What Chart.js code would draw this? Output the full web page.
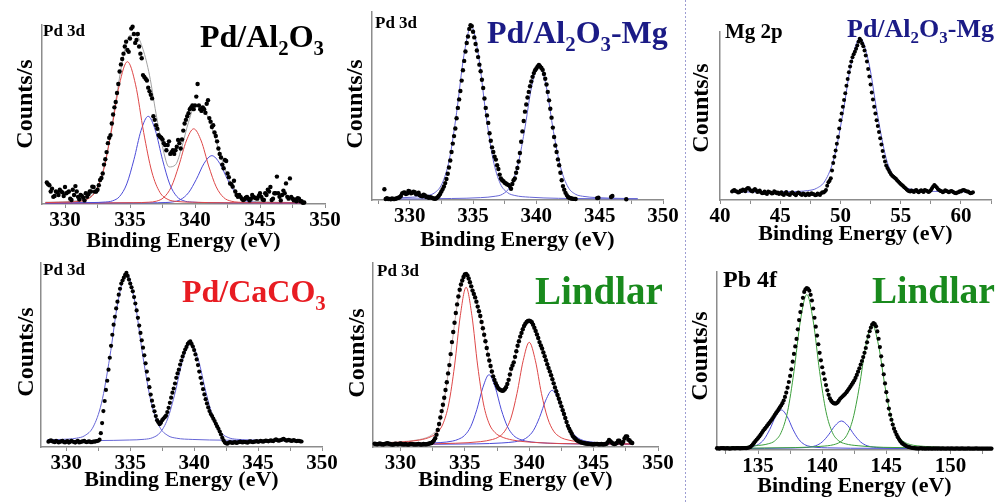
<!DOCTYPE html>
<html>
<head>
<meta charset="utf-8">
<script src="https://cdn.jsdelivr.net/npm/chart.js@4.4.1/dist/chart.umd.min.js"></script>
<style>
  html, body { margin: 0; padding: 0; background: #fff; }
  #fig { position: relative; width: 1000px; height: 502px; overflow: hidden; background: #fff; }
  #fig canvas { position: absolute; }
  .lbl { position: absolute; font-family: 'Liberation Serif', 'Times New Roman', serif; font-weight: bold;
         line-height: 1; white-space: nowrap; z-index: 5; }
  .lbl sub { font-size: 0.65em; vertical-align: baseline; position: relative; top: 0.38em; }
  .ytitle { position: absolute; font-family: 'Liberation Serif', 'Times New Roman', serif; font-weight: bold;
            line-height: 1; white-space: nowrap; transform: translate(-50%, -50%) rotate(-90deg); z-index: 5; }
  .sep { position: absolute; left: 685px; top: 0; width: 1px; height: 502px; z-index: 4;
         background: repeating-linear-gradient(to bottom, #9d9dd2 0 2px, transparent 2px 4px); }
</style>
</head>
<body>
<div id="fig"><div class="sep"></div></div>
<script>
// ---------- Pd 3d, Pd/Al2O3 (measured counts every 0.1 eV from 328.6) ----------
const alDots = [
  12,11,10.5,7,8.5,4,4.5,7,6.5,5,
  8,7,6.5,4.5,9.5,6,6.5,7,3,2.2,
  8,5,10,7,4,2.5,5,4.5,3.5,2,
  6,4,5.5,7,7,9.7,9.5,6.9,7,8,
  10.5,13.4,14.5,17,22,25,29,34,37,38.5,
  45,50,54,57,62,67,74,78,81,84,
  88,90.7,86,85,92.5,98,99,95,90,91.6,
  95,88,84,81.4,72,71,70,69,65,63,
  61,59,49,47,44,42,38.5,37.6,37,36,
  34,33,30,33,35,28,29,30,28,30,
  32,35.8,34,31,36,41,45,47,49,50.7,
  53,54,55,53,55,60,67,55,53,52,
  54,53,51,56,58,48,46,43,44,40,
  38,35,31,28,26,22,20,24.6,24,17,
  15,11.5,11,9.7,13,7,5,4,5,4,
  3,2.2,2.5,3.5,4,3,2,3,5,4,
  3.5,3.2,3,4.5,6,4,2.5,2.2,6,5,
  8,7,9.5,2.2,3,6,6,15.3,6,4,
  2,5,7.5,6,11.5,4,3,14.3,4,3,
  2,2.5,1.5,3.2,3,1.5,1.5,0.7,0.8];
// fit envelope every 0.5 eV from 328.5
const alEnvelope = [1.0,1.0,1.1,1.2,1.45,1.8,2.4,4.4,9.4,20.7,39.1,61.9,82.9,94.2,93.9,86.4,71.9,50.6,32,20.7,
  21.9,32.2,45.7,54.6,54.5,48.4,38,26.4,16,8.6,4.1,2.3,1.55,1.25,1.1,1.0,0.95,0.9,0.85,0.8,0.8];
const alRed1 = [[328.5,0.8],[329.8,1.0],[331.05,1.45],[331.68,2.5],[332.3,6.5],[332.93,17.9],[333.55,40],[334.18,66.6],[334.8,79.5],
  [335.43,66.6],[336.05,40],[336.68,17.9],[337.3,6.5],[337.93,2.5],[338.55,1.45],[339.8,1.0],[342.3,0.7],[348.5,0.6]];
const alBlue1 = [[328.5,0.5],[332.0,0.8],[333.1,1.1],[333.65,1.75],[334.2,4.2],[334.75,11.2],[335.3,24.75],[335.85,41.1],[336.4,49],
  [336.95,41.1],[337.5,24.75],[338.05,11.2],[338.6,4.2],[339.15,1.75],[339.7,1.1],[340.8,0.8],[343.0,0.6],[348.5,0.5]];
const alRed2 = [[328.5,0.5],[335.3,0.75],[336.45,1.0],[337.03,1.57],[337.6,3.65],[338.18,9.6],[338.75,21.25],[339.33,35.2],[339.9,42],
  [340.48,35.2],[341.05,21.25],[341.63,9.6],[342.2,3.65],[342.78,1.57],[343.35,1.0],[344.5,0.75],[348.5,0.55]];
const alBlue2 = [[328.5,0.5],[336.5,0.66],[337.7,0.82],[338.3,1.18],[338.9,2.5],[339.5,6.3],[340.1,13.75],[340.7,22.7],[341.3,27],
  [341.9,22.7],[342.5,13.75],[343.1,6.3],[343.7,2.5],[344.3,1.18],[344.9,0.82],[346.1,0.66],[348.5,0.55]];

// ---------- Pd 3d, Pd/Al2O3-Mg (every 0.1 eV from 328.0; null = no reading) ----------
const mgDots = [
  5.7,0.5,1.0,0.5,0.6,0.4,0.8,0.5,0.5,0.7,
  1.0,1.2,1.5,2.1,3.5,3.9,4.0,3.2,3.5,4.8,
  4.5,3.6,3.8,4.4,4.2,3.0,3.2,3.9,2.5,2.1,
  2.0,2.8,2.4,1.6,1.8,1.2,1.5,1.3,1.0,0.8,
  0.6,0.9,1.5,2.3,3.2,4.5,5.8,7.2,9,11.2,
  14,17.3,21,25.5,30,34,38,43.5,49,53.5,
  58,63.5,69,74,79,83.5,87,91,93,92.5,
  89.5,86.5,83,79.5,76,72,68.5,64,59.6,54,
  49,45,41,35.5,31.5,28,25.5,23,21.5,18.5,
  16.5,13.5,11.5,10.5,10,9.2,8.8,8.3,8.0,7.4,
  6.0,8.5,10.5,11.5,14.5,17,20.5,25,31,36.5,
  42,47,50.8,54.5,57.5,60.5,63,65.5,67.5,69,
  70,71,71.8,71,70.2,69.2,67,64.5,61.4,57.5,
  53,48.5,43.8,38.5,33.5,29,25.5,21.6,18.5,14.5,
  10.5,7.4,5.5,3.8,2.6,1.6,1.2,0.9,0.8,0.6,
  0.6,0.5,null,null,null,null,null,null,null,null,
  null,null,null,null,null,null,null,null,1.0,1.2,
  null,null,null,null,null,null,null,null,null,1.6,
  2.1,null,null,null,null,null,null,null,null,null,
  null,0.4,null,null,null,null,null,null,null];
const mgFit1 = [[328.0,0.9],[330.25,1.5],[331.4,2.4],[331.98,3.9],[332.55,8.7],[333.13,21.6],[333.7,46.4],[334.28,77],[334.85,92.4],
  [335.43,77],[336.0,46.4],[336.58,21.6],[337.15,8.7],[337.73,3.9],[338.3,2.4],[339.45,1.5],[341.75,0.9],[348.0,0.6]];
const mgFit2 = [[328.0,0.5],[333.3,0.8],[335.6,1.26],[336.75,2.0],[337.33,3.1],[337.9,6.9],[338.48,17],[339.05,36.4],[339.63,60.4],[340.2,72.4],
  [340.78,60.4],[341.35,36.4],[341.93,17],[342.5,6.9],[343.08,3.1],[343.65,2.0],[344.8,1.26],[347.1,0.8],[348.0,0.7]];

// ---------- Mg 2p, Pd/Al2O3-Mg (every 0.1 eV from 41.0) ----------
const mg2pDots = [
  5,5.6,6,5.2,5,4.4,4.6,5.6,5.4,6.2,
  6,5.2,6.5,7.2,7,6,5.4,5,6,6.6,
  5.8,4.8,5,5.6,4.6,4,4.2,5,4,3.6,
  5,4.6,4.4,3.8,4,5.2,4.8,4,4.5,3.6,
  4,4.6,3.4,3,4,4.8,3.6,3.2,3,4,
  4.6,3.8,3.4,2.8,3.8,4.4,4,3.4,3,3.8,
  3.6,2.8,3.2,3.8,3,3.4,4,3.6,3.4,2.8,
  3,3.8,3.4,3,4,4.6,4.4,5,6,8.5,
  10.5,11.5,13,17.5,22,25.8,29.5,33.5,37.5,42.5,
  47.5,51.5,55.5,59.5,63.6,68,72,76,79.5,82.5,
  85,86.8,88.3,90,92,94.2,96,95,93.2,91.5,
  89,86,82.5,78,73.5,68.8,64,59.8,55.5,51.5,
  47.5,44,40.5,36.8,33,29.2,25.8,22.9,20.5,19,
  17.9,16.5,15.4,14.5,13.9,13.2,12.6,11.8,11,10.2,
  9.5,8.9,8.4,7.6,7,6.2,5.6,5.2,5,5.6,
  5.2,4.8,5.6,6,5,4.6,5.4,5.8,5.2,4.8,
  6,5.6,5.4,4.8,5,5.8,7,8,9,8.2,
  7.5,6.4,6,5.4,5.2,4.6,5,5.8,5.4,5,
  4.6,5,5.4,5,4.6,4.2,4,4.4,4.6,5.2,
  5,5.6,6,5.8,5.4,5,5,4.4,4,4.2,
  4.6];
const mg2pFit = [[41.0,4.7],[45.83,5.0],[47.28,5.6],[48.0,6.9],[48.73,11.5],[49.46,24.7],[50.18,50.5],[50.9,81.5],[51.63,96.5],
  [52.36,81.5],[53.08,50.5],[53.8,24.7],[54.53,12.5],[55.25,8.0],[55.98,6.3],[57.43,5.2],[60.33,4.8],[61.0,4.7]];

// ---------- Pd 3d, Pd/CaCO3 (every 0.1 eV from 328.6) ----------
const caDots = [
  2.9,3.3,3.6,3.1,2.9,2.6,3.3,3.0,2.5,2.8,
  3.1,3.4,2.7,2.5,2.9,3.2,2.4,2.8,3.3,3.0,
  2.7,2.4,3.0,3.4,2.5,2.7,2.9,3.1,3.3,2.8,
  2.7,2.9,3.1,2.7,2.6,3.0,2.9,3.1,3.2,3.4,
  4.0,7.5,13,19.5,25,31,36,42,48.5,55,
  61,66.5,70.8,75.3,79,82.8,86,88.8,90.5,92,
  93.5,94.6,93,91,88.8,86.8,84.6,81.5,78,74.2,
  70.2,66,62,58,54,49.8,45.5,41,36.8,32.5,
  28.5,25.2,22.2,19.4,16.8,14.6,13.5,12.4,13.2,14.6,
  15.5,16.2,17,19,21.3,24,26.8,29.5,31.8,34.5,
  37.6,40,42,44.8,47,49.2,51.2,53,54.4,56,
  56.9,57.4,56,54.6,52.7,50.3,47.6,44.5,41,37.6,
  34.5,31.4,28.6,26,23.7,21.5,19.5,17.9,16.8,15.4,
  14.1,12.6,11.2,9.9,8.4,6.8,5,3.6,2.4,2.0,
  1.8,2.3,2.6,2.4,2.2,2.5,2.6,2.2,2.4,2.7,
  2.9,2.6,2.5,2.8,2.7,2.5,2.4,2.9,3.1,2.8,
  2.6,2.9,3.0,3.2,2.8,3.0,3.3,3.1,2.9,3.2,
  3.5,3.3,3.1,3.4,3.6,3.3,3.2,3.8,4.2,3.7,
  3.4,3.6,3.8,4.1,4.4,3.9,3.5,3.6,3.9,3.6,
  3.3,3.5,3.7,3.4,3.2,3.3,3.4,3.1,3.0];
const caFit1 = [[328.5,3.9],[329.5,4.1],[330.8,4.8],[331.45,6.2],[332.1,10.9],[332.75,23.8],[333.4,48.8],[334.05,79.3],[334.7,94.3],
  [335.35,79.3],[336.0,48.8],[336.65,23.8],[337.3,10.9],[337.95,6.2],[338.6,4.8],[339.9,4.1],[342.5,3.7],[348.5,3.4]];
const caFit2 = [[328.5,3.4],[332.52,3.5],[334.92,3.8],[336.12,4.2],[336.72,5.0],[337.32,7.7],[337.92,15.2],[338.52,29.8],[339.12,47.6],[339.72,56.3],
  [340.32,47.6],[340.92,29.8],[341.52,15.2],[342.12,7.7],[342.72,5.0],[343.32,4.2],[344.52,3.8],[346.92,3.5],[348.5,3.4]];

// ---------- Pd 3d, Lindlar (every 0.1 eV from 328.0) ----------
const linPdDots = [
  1.8,1.6,1.5,1.7,1.9,1.6,1.4,1.5,1.7,1.9,
  2.0,1.8,1.6,1.4,1.3,1.5,1.8,1.7,1.5,1.7,
  1.9,1.6,1.4,1.5,1.6,1.4,1.3,1.5,1.7,1.6,
  1.5,1.4,1.4,1.5,1.6,1.5,1.3,1.4,1.6,1.5,
  1.5,1.6,1.8,2.0,2.2,2.7,3.5,4.8,6.7,9.3,
  12.5,16,19.5,23,26.8,31,35.2,40,44.5,50.5,
  57,62.5,67.5,72.8,77.5,81.8,85.5,88.3,90.5,92.4,
  93.8,94,93.3,91.6,89.5,87.3,85,83.2,81.3,79,
  76.3,73.8,71.2,68,64.5,61,57.5,53.8,50.2,47,
  44,41,38.4,36.4,34.7,33.2,31.9,31.3,30.9,30.6,
  30.7,31.4,32.5,34.3,36.5,39.4,42.5,44.3,46,49,
  52,55,57.5,60,62,64,65.8,67,68,68.5,
  68.7,68.4,67.8,66.5,64.8,63.1,61.2,59.2,57,55.2,
  53.5,51.4,49.3,47.2,45,43,41.1,39,36.8,34.6,
  32.4,30.3,28.3,26.2,24.2,22.1,20,17.9,15.8,13.6,
  11.5,10,8.6,7.2,5.8,5,4.4,3.7,3.2,2.9,
  2.6,2.4,2.2,2.0,1.9,1.8,1.8,1.7,1.6,1.5,
  1.5,1.6,1.7,1.6,1.5,1.4,1.6,1.5,1.4,1.6,
  1.8,2.6,3.8,3.2,2.5,1.9,1.6,1.8,2.2,3.4,
  3.4,2.4,1.8,2.8,4.6,5.8,5.8,4,3.5,2.6,
  2.2];
// fit envelope every 0.5 eV from 328.0
const linPdEnvelope = [2.2,2.3,2.4,2.6,2.8,3.1,3.5,4.1,5.0,7.0,12,30,56,81,93.5,87.5,76,61,44,33.5,
  31,39,52,63.5,68.5,63.5,53,43,32,22,11.8,5.5,3.3,2.6,2.3,2.1,2.0,1.9,1.8,1.8,1.7];
const linPdRed1 = [[328.0,2.0],[331.5,3.8],[332.4,5.7],[332.85,7.8],[333.3,12.5],[333.75,23.4],[334.2,44.05],[334.65,71.4],[335.1,86.8],
  [335.55,71.4],[336.0,44.05],[336.45,23.4],[336.9,12.5],[337.35,7.8],[337.8,5.7],[338.7,3.8],[340.5,2.45],[344.1,1.7],[348.0,1.55]];
const linPdBlue1 = [[328.0,1.5],[333.08,2.4],[334.03,3.2],[334.5,4.2],[334.98,6.3],[335.46,11.1],[335.93,20.3],[336.41,32.5],[336.88,39.3],
  [337.36,32.5],[337.83,20.3],[338.31,11.1],[338.78,6.3],[339.26,4.2],[339.73,3.2],[340.68,2.4],[342.58,1.8],[348.0,1.4]];
const linPdRed2 = [[328.0,1.4],[334.3,2.05],[336.2,2.9],[337.15,4.1],[337.63,5.5],[338.1,8.6],[338.58,15.7],[339.05,29.1],[339.53,46.9],[340.0,56.9],
  [340.48,46.9],[340.95,29.1],[341.43,15.7],[341.9,8.6],[342.38,5.5],[342.85,4.1],[343.8,2.9],[345.7,2.05],[348.0,1.7]];
const linPdBlue2 = [[328.0,1.35],[335.93,1.7],[337.88,2.2],[338.85,2.8],[339.34,3.5],[339.83,5.2],[340.32,8.9],[340.8,16.05],[341.29,25.5],[341.78,30.8],
  [342.27,25.5],[342.76,16.05],[343.24,8.9],[343.73,5.2],[344.22,3.5],[344.71,2.8],[345.68,2.2],[347.63,1.7],[348.0,1.6]];

// ---------- Pb 4f, Lindlar (every 0.1 eV from 131.8) ----------
const linPbDots = [
  1.0,0.9,0.8,1.0,1.1,1.0,0.9,0.9,1.0,0.9,
  0.8,0.9,1.0,1.0,0.9,1.0,1.1,1.0,0.9,1.0,
  1.0,1.1,1.1,1.1,1.2,1.4,1.7,2.4,3.2,4.1,
  5.0,5.9,6.7,7.6,8.6,9.7,10.8,11.7,12.6,13.5,
  14.5,15.4,16.4,17.4,18.5,19.6,20.7,21.7,22.8,23.9,
  25,26.3,27.8,29.8,32.2,35,38.2,41.6,45.3,49.6,
  54,58.2,62.4,67.8,73,77.5,81.5,85.5,88.8,90.3,
  91,90.5,89.5,87.2,84,79.5,74.3,69.3,64.3,59.4,
  54.6,50.4,46.5,43,39.7,36.5,33.5,31,29,27.7,
  26.8,26.3,26,26.2,26.7,27.7,28.8,29.5,30.2,30.9,
  31.6,32.5,33.5,34.5,35.6,36.7,37.8,39,40.5,42.2,
  44,45.9,48,50,52.2,54.6,57.3,60.5,63.8,66.7,
  68.8,70.5,71.3,70.8,69.5,66.6,62.5,57.8,52.6,47.6,
  42.5,37.4,32.5,27.7,23.3,19.8,17,14.3,12,10.2,
  8.6,7.2,6,4.9,4,3.4,2.9,2.5,2.1,1.8,
  1.6,1.4,1.2,1.1,1.0,0.9,0.9,0.8,0.9,1.0,
  0.8,0.9,0.8,0.8,0.9,0.8,0.9,0.8,0.8,0.9,
  0.8,0.9,0.8,0.9,0.8,0.8,0.9,0.8,0.8,0.8,
  0.9,0.8,0.8,0.9,0.8,0.8,0.8,0.9,0.8,0.8,
  0.8,0.9,0.8,0.8,0.8,0.8,0.9,0.8,0.8,0.8,
  0.8,0.8,0.9,0.8,0.8,0.8,0.8,0.8,0.8,0.8,
  0.8,0.8,0.8,0.8,0.8];
const linPbGreen1 = [[131.8,1.4],[134.8,2.4],[135.8,3.5],[136.3,5.1],[136.8,9.8],[137.3,21.5],[137.8,44.05],[138.3,72.5],[138.8,87.3],
  [139.3,72.5],[139.8,44.05],[140.3,21.5],[140.8,9.8],[141.3,5.1],[141.8,3.5],[142.8,2.4],[144.8,1.5],[153.24,1.05]];
const linPbGreen2 = [[131.8,1.0],[137.9,1.36],[139.9,2.05],[140.9,3.0],[141.4,4.5],[141.9,8.05],[142.4,17.5],[142.9,35.65],[143.4,58.6],[143.9,70.5],
  [144.4,58.6],[144.9,35.65],[145.4,17.5],[145.9,8.05],[146.4,4.5],[146.9,3.0],[147.9,2.05],[149.9,1.36],[153.24,1.1]];
const linPbBlue1 = [[131.8,1.0],[133.22,1.2],[134.12,1.5],[134.57,2.0],[135.02,3.1],[135.47,6.0],[135.92,11.65],[136.37,18.8],[136.82,22.5],
  [137.27,18.8],[137.72,11.65],[138.17,6.0],[138.62,3.1],[139.07,2.0],[139.52,1.5],[140.42,1.2],[142.22,1.0],[153.24,0.85]];
const linPbBlue2 = [[131.8,0.85],[135.5,0.92],[137.5,1.08],[138.5,1.3],[139.0,1.6],[139.5,2.4],[140.0,4.5],[140.5,8.55],[141.0,13.65],[141.5,16.3],
  [142.0,13.65],[142.5,8.55],[143.0,4.5],[143.5,2.4],[144.0,1.6],[144.5,1.3],[145.5,1.08],[147.5,0.92],[153.24,0.85]];

// ---------- drawing ----------
const SERIF = "'Liberation Serif', 'Times New Roman', serif";
const AXIS_GREY = '#8c8c8c';
const RED = '#de4747', BLUE = '#4b4bd8', PALE_BLUE = '#6666d6', GREEN = '#3c9f3c', GREY = '#a2a2a2';

function gridPoints(start, step, values) {
  const pts = [];
  values.forEach((v, i) => {
    if (v !== null) pts.push({ x: Math.round((start + i * step) * 100) / 100, y: v });
  });
  return pts;
}
function pairPoints(pairs) { return pairs.map(([x, y]) => ({ x, y })); }

const panels = [
  { box: [42, 25, 325, 204], xr: [328.23, 350], axisH: 51, dotR: 2.2,
    dots: gridPoints(328.6, 0.1, alDots),
    lines: [[pairPoints(alRed1), RED], [pairPoints(alBlue1), BLUE], [pairPoints(alRed2), RED], [pairPoints(alBlue2), BLUE],
            [gridPoints(328.5, 0.5, alEnvelope), GREY]] },
  { box: [372, 12, 663, 200], xr: [327.02, 350], axisH: 54, dotR: 2.2,
    dots: gridPoints(328.0, 0.1, mgDots),
    lines: [[pairPoints(mgFit1), PALE_BLUE], [pairPoints(mgFit2), PALE_BLUE]] },
  { box: [720, 32, 991, 200], xr: [40, 62.5], axisH: 48, dotR: 2.0,
    dots: gridPoints(41.0, 0.1, mg2pDots),
    lines: [[pairPoints(mg2pFit), PALE_BLUE]] },
  { box: [41, 263, 322, 447], xr: [328.02, 350], axisH: 47, dotR: 2.1,
    dots: gridPoints(328.6, 0.1, caDots),
    lines: [[pairPoints(caFit1), PALE_BLUE], [pairPoints(caFit2), PALE_BLUE]] },
  { box: [373, 263, 658, 447], xr: [327.87, 350], axisH: 47, dotR: 2.2,
    dots: gridPoints(328.0, 0.1, linPdDots),
    lines: [[pairPoints(linPdRed1), RED], [pairPoints(linPdBlue1), BLUE], [pairPoints(linPdRed2), RED], [pairPoints(linPdBlue2), BLUE],
            [gridPoints(328.0, 0.5, linPdEnvelope), '#c4a8a8']] },
  { box: [717, 272, 992, 450], xr: [131.8, 153.24], axisH: 50, dotR: 2.1,
    dots: gridPoints(131.8, 0.1, linPbDots),
    lines: [[pairPoints(linPbGreen1), GREEN], [pairPoints(linPbGreen2), GREEN], [pairPoints(linPbBlue1), BLUE], [pairPoints(linPbBlue2), BLUE]] }
];

const fig = document.getElementById('fig');
const MARGIN_L = 24, MARGIN_R = 26, MARGIN_T = 8;

function isMajor(v) { return Math.abs(v - Math.round(v / 5) * 5) < 1e-6; }

panels.forEach(p => {
  const [l, t, r, b] = p.box;
  const w = Math.round(r - l + MARGIN_L + MARGIN_R);
  const h = Math.round(b - t + MARGIN_T + p.axisH);
  const canvas = document.createElement('canvas');
  canvas.width = w; canvas.height = h;
  canvas.style.left = (l - MARGIN_L) + 'px';
  canvas.style.top = (t - MARGIN_T) + 'px';
  canvas.style.width = w + 'px';
  canvas.style.height = h + 'px';
  fig.appendChild(canvas);

  const datasets = [{
    data: p.dots, showLine: false, pointRadius: p.dotR, pointHoverRadius: p.dotR,
    pointBackgroundColor: '#000', pointBorderWidth: 0, clip: false
  }];
  p.lines.forEach(([pts, color]) => datasets.push({
    data: pts, showLine: true, pointRadius: 0, pointHoverRadius: 0, borderColor: color,
    borderWidth: 1, fill: false, cubicInterpolationMode: 'monotone', clip: false
  }));

  new Chart(canvas, {
    type: 'scatter',
    data: { datasets },
    options: {
      responsive: false, animation: false, devicePixelRatio: 1, events: [],
      layout: { padding: { left: 0, right: MARGIN_R, top: MARGIN_T, bottom: 0 } },
      plugins: { legend: { display: false }, tooltip: { enabled: false } },
      scales: {
        x: {
          type: 'linear', min: p.xr[0], max: p.xr[1],
          afterFit(scale) { scale.height = p.axisH; },
          border: { display: true, color: AXIS_GREY, width: 1.5 },
          grid: { display: true, drawOnChartArea: false, drawTicks: true, tickLength: 4, color: AXIS_GREY, lineWidth: 1 },
          ticks: {
            stepSize: 2.5, includeBounds: false, autoSkip: false, maxRotation: 0, minRotation: 0, padding: 0,
            color: '#000', font: { family: SERIF, weight: 'bold', size: 21 },
            callback: v => (isMajor(v) ? String(Math.round(v)) : '')
          },
          title: { display: true, text: 'Binding Energy (eV)', color: '#000', padding: 0,
                   font: { family: SERIF, weight: 'bold', size: 22 } }
        },
        y: {
          type: 'linear', min: 0, max: 100,
          afterFit(scale) { scale.width = MARGIN_L; },
          border: { display: true, color: AXIS_GREY, width: 1.5 },
          grid: { display: false },
          ticks: { display: false }
        }
      }
    }
  });
});

// ---------- text labels ----------
const NAVY = '#1b1b86', TITLE_RED = '#e81c22', TITLE_GREEN = '#198a1d';
const textLabels = [
  { html: 'Pd 3d', x: 43, base: 36.7, size: 17, color: '#000' },
  { html: 'Pd/Al<sub>2</sub>O<sub>3</sub>', x: 200, base: 46.5, size: 32, color: '#000' },
  { html: 'Pd 3d', x: 375, base: 28, size: 17, color: '#000' },
  { html: 'Pd/Al<sub>2</sub>O<sub>3</sub>-Mg', x: 487, base: 43, size: 32, color: NAVY },
  { html: 'Mg 2p', x: 725, base: 38.5, size: 21, color: '#000' },
  { html: 'Pd/Al<sub>2</sub>O<sub>3</sub>-Mg', x: 847, base: 37.5, size: 26, color: NAVY },
  { html: 'Pd 3d', x: 43, base: 275, size: 17, color: '#000' },
  { html: 'Pd/CaCO<sub>3</sub>', x: 182, base: 301.7, size: 32, color: TITLE_RED },
  { html: 'Pd 3d', x: 377, base: 276, size: 17, color: '#000' },
  { html: 'Lindlar', x: 535, base: 303.3, size: 39, color: TITLE_GREEN },
  { html: 'Pb 4f', x: 723, base: 287, size: 24, color: '#000' },
  { html: 'Lindlar', x: 872, base: 303.3, size: 37.5, color: TITLE_GREEN }
];
textLabels.forEach(t => {
  const d = document.createElement('div');
  d.className = 'lbl';
  d.innerHTML = t.html;
  d.style.left = t.x + 'px';
  d.style.top = (t.base - 0.8375 * t.size) + 'px';
  d.style.fontSize = t.size + 'px';
  d.style.color = t.color;
  fig.appendChild(d);
});

const yTitles = [[24, 104], [354, 104], [700, 108], [25, 352], [356, 353], [699, 356]];
yTitles.forEach(([cx, cy]) => {
  const d = document.createElement('div');
  d.className = 'ytitle';
  d.textContent = 'Counts/s';
  d.style.left = cx + 'px';
  d.style.top = cy + 'px';
  d.style.fontSize = '24px';
  fig.appendChild(d);
});
</script>
</body>
</html>
